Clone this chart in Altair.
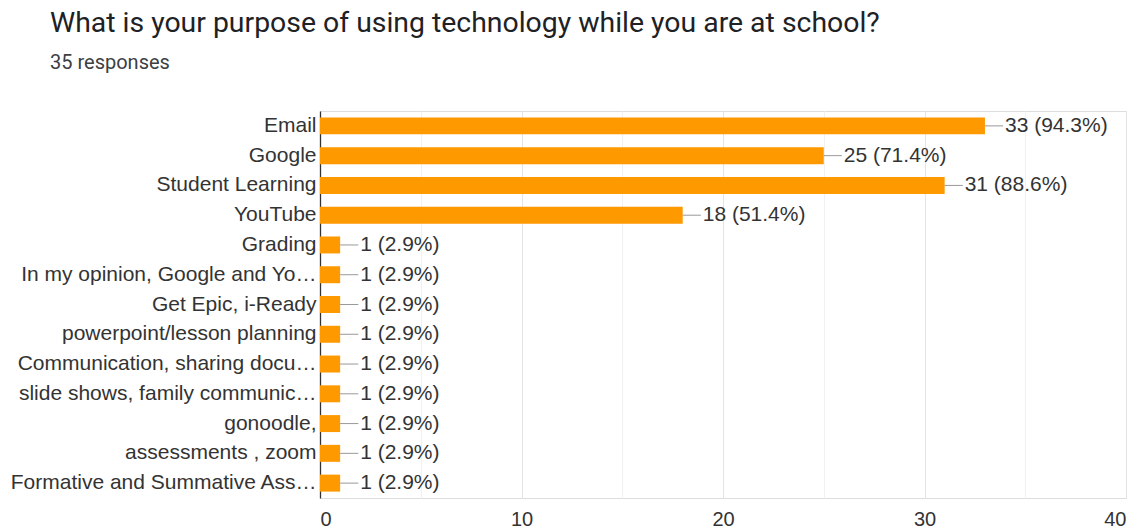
import altair as alt
import pandas as pd

categories = [
    "Email",
    "Google",
    "Student Learning",
    "YouTube",
    "Grading",
    "In my opinion, Google and Yo…",
    "Get Epic, i-Ready",
    "powerpoint/lesson planning",
    "Communication, sharing docu…",
    "slide shows, family communic…",
    "gonoodle,",
    "assessments , zoom",
    "Formative and Summative Ass…",
]
counts = [33, 25, 31, 18, 1, 1, 1, 1, 1, 1, 1, 1, 1]
percents = ["94.3%", "71.4%", "88.6%", "51.4%", "2.9%", "2.9%", "2.9%", "2.9%",
            "2.9%", "2.9%", "2.9%", "2.9%", "2.9%"]
x_ticks = [0, 5, 10, 15, 20, 25, 30, 35, 40]

df = pd.DataFrame({"cat": categories, "count": counts, "pct": percents})
df["label"] = df["count"].astype(str) + " (" + df["pct"] + ")"

FONT = "Liberation Sans"

y_enc = alt.Y("cat:N", sort=categories, title=None,
              scale=alt.Scale(paddingInner=0.43, paddingOuter=0.215),
              axis=alt.Axis(labelFont=FONT, labelFontSize=21, labelColor="#333333",
                            labelLimit=330, labelPadding=4, ticks=False,
                            domainColor="#333333", domainWidth=1.3))

x_scale = alt.Scale(domain=[0, 40], nice=False)

base = alt.Chart(df)

bars = base.mark_bar(color="#ff9900").encode(
    x=alt.X("count:Q", scale=x_scale, title=None,
            axis=alt.Axis(values=x_ticks, labelExpr="datum.value % 10 == 0 ? datum.label : ''",
                          labelFont=FONT, labelFontSize=20, labelColor="#333333",
                          labelPadding=11, ticks=False, domain=False,
                          gridColor=alt.condition("datum.value % 10 == 0", alt.value("#e4e4e4"), alt.value("#f1f1f1")))),
    y=y_enc,
)

connectors = base.transform_calculate(end="datum.count + 0.9").mark_rule(
    color="#999999", strokeWidth=1
).encode(
    x=alt.X("count:Q", scale=x_scale),
    x2="end:Q",
    y=alt.Y("cat:N", sort=categories, bandPosition=0.5),
)

labels = base.mark_text(align="left", baseline="middle", dx=20, font=FONT,
                        fontSize=21, color="#333333").encode(
    x=alt.X("count:Q", scale=x_scale),
    y=alt.Y("cat:N", sort=categories),
    text="label:N",
)

chart = alt.layer(bars, connectors, labels).properties(
    width=806,
    height=387,
    padding={"left": 320, "top": 111, "right": 16, "bottom": 30},
    autosize=alt.AutoSizeParams(type="none"),
    title=alt.TitleParams(
        "What is your purpose of using technology while you are at school?",
        subtitle="35 responses",
        anchor="start",
        frame="group",
        dx=-270,
        offset=37,
        font="Roboto",
        fontSize=28.4,
        fontWeight="normal",
        color="#202124",
        subtitleFont="Roboto",
        subtitleFontSize=20,
        subtitleColor="#3c4043",
        subtitlePadding=14.5,
    ),
).configure_view(stroke="#e4e4e4").configure(background="white")

chart.save("out.html", embed_options={"renderer": "svg", "actions": False})
